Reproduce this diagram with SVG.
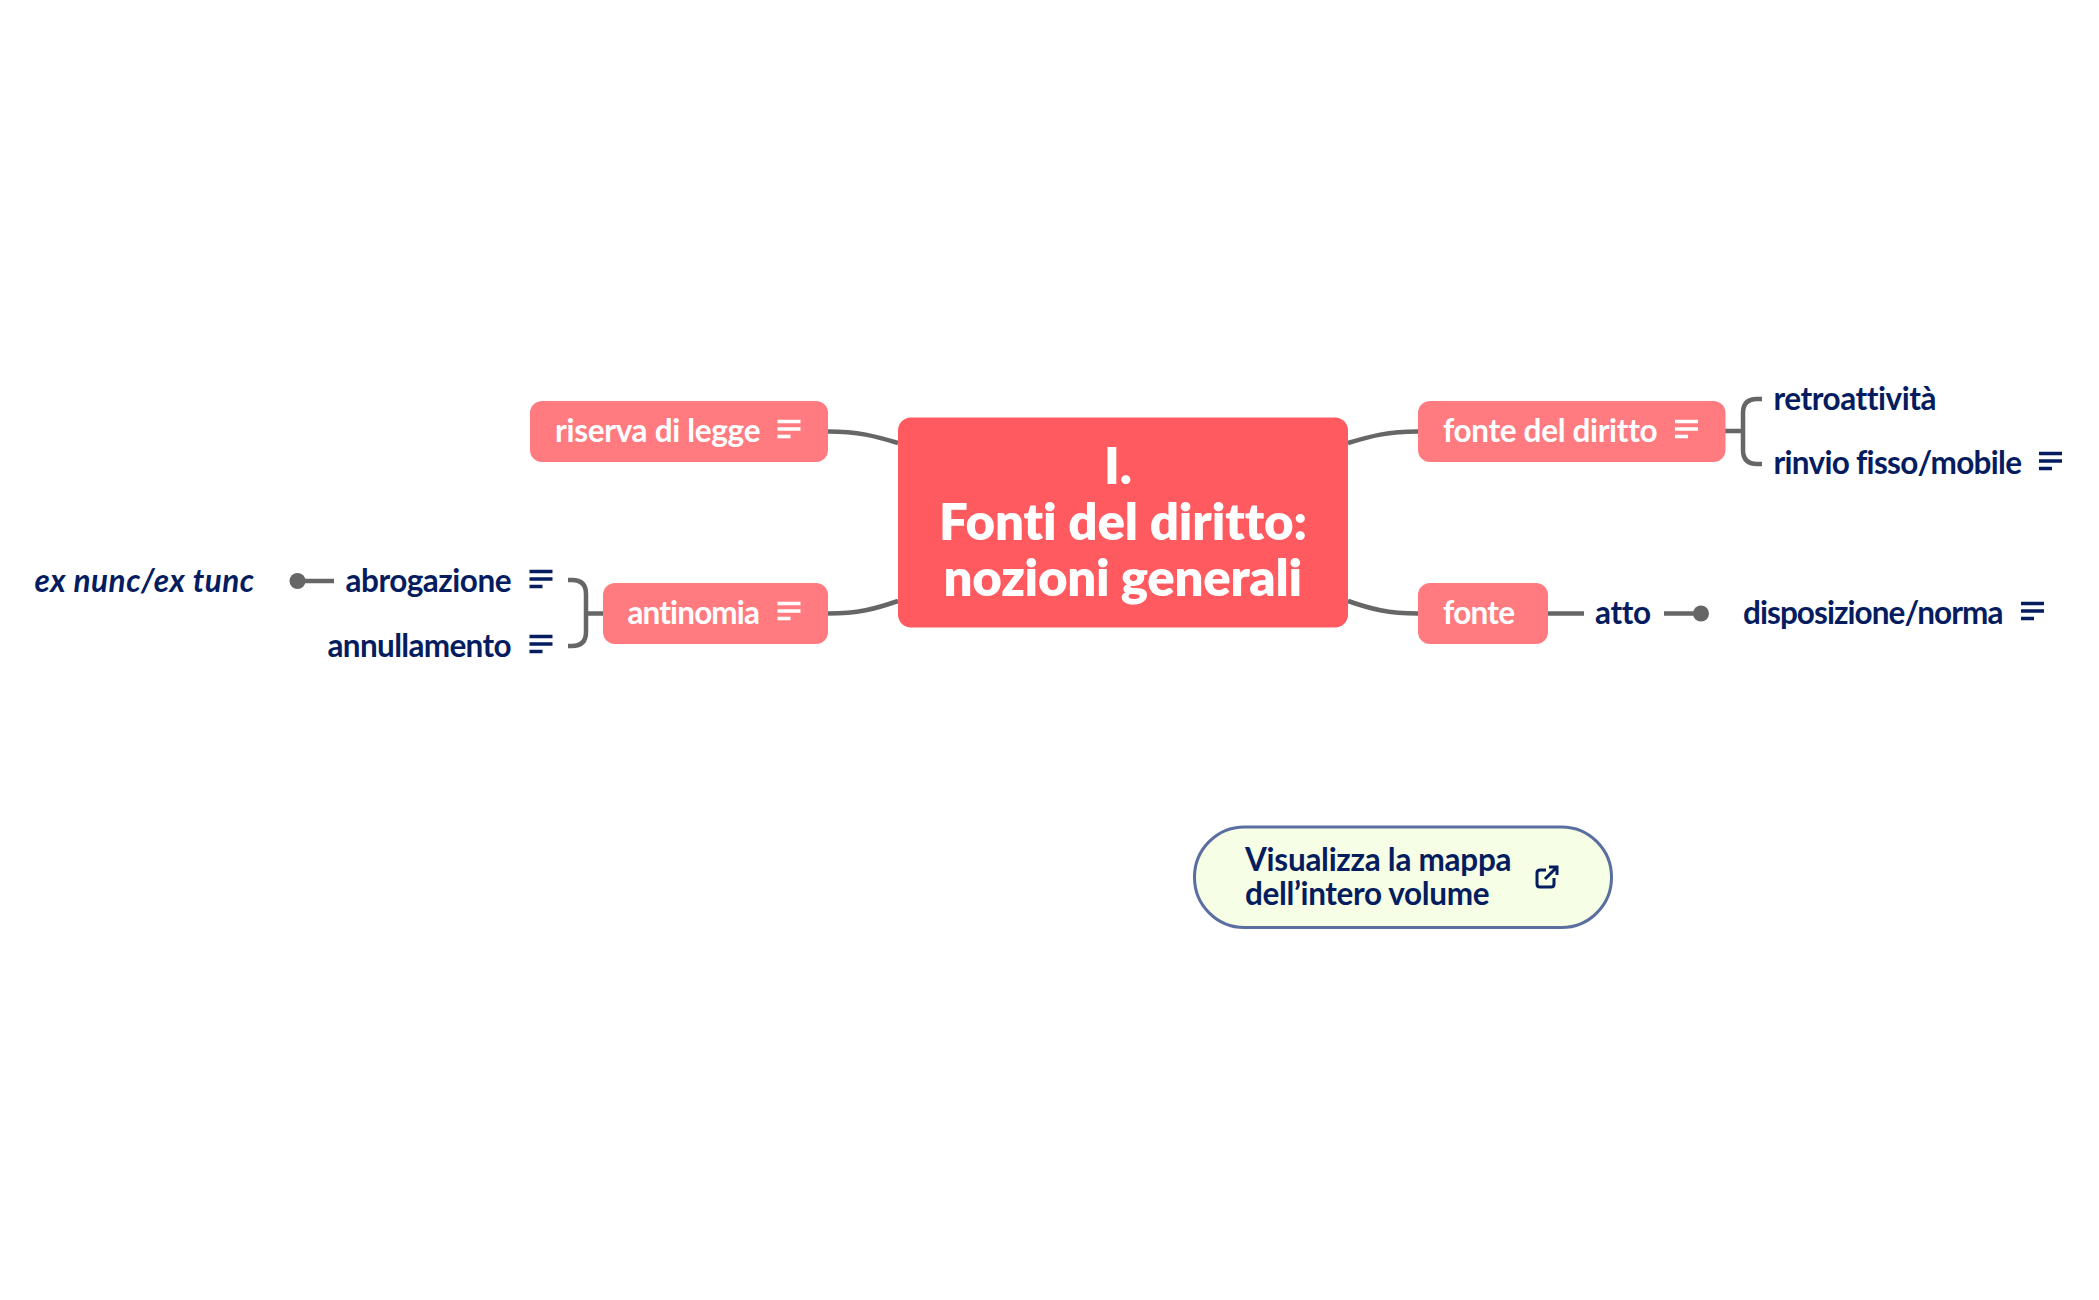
<svg xmlns="http://www.w3.org/2000/svg" width="2099" height="1300" viewBox="0 0 2099 1300">
<style>
text{font-family:"Lato","Liberation Sans",sans-serif;font-weight:700;font-variant-ligatures:none}
.c{fill:#ff5a5f}.b{fill:#ff7b80}
.w{fill:#fff}.n{fill:#051d5f}
.t{font-size:31.500px}.m{font-size:51px;font-weight:800}
.l{fill:none;stroke:#666;stroke-width:4.5;stroke-linecap:butt}
.iw{stroke:#fff;stroke-width:3.4;fill:none}
.in{stroke:#051d5f;stroke-width:3.4;fill:none}
</style>
<defs>
<path id="nt" d="M0 1.5H23M0 9H23M0 16.5H13"/>
</defs>
<rect width="2099" height="1300" fill="#fff"/>
<g id="connectors">
<path class="l" d="M828 431.5C858 431.5 875 436 898 443"/>
<path class="l" d="M828 613.5C858 613.5 875 609 898 601"/>
<path class="l" d="M1348 443C1371 436 1388 431.5 1418 431.5"/>
<path class="l" d="M1348 601C1371 609 1388 613.5 1418 613.5"/>
<path class="l" d="M1725 431H1743M1762 399H1757Q1743 399 1743 413V450Q1743 464 1757 464H1762"/>
<path class="l" d="M603 613.5H586M568 580H572Q586 580 586 594V632Q586 646 572 646H568"/>
<path class="l" d="M1547 613.5H1584M1664 613.5H1701"/>
<path class="l" d="M334 581H297"/>
</g>
<g id="center"><rect class="c" x="898" y="417.5" width="450" height="210" rx="13"/>
<text class="w m" x="1104" y="484">I.</text>
<text class="w m" x="939" y="540" textLength="368">Fonti del diritto:</text>
<text class="w m" x="943.500" y="596" textLength="358.500">nozioni generali</text></g>
<g id="riserva"><rect class="b" x="530" y="401" width="298" height="61" rx="12"/>
<text class="w t" x="555" y="442" textLength="205.500">riserva di legge</text>
<use href="#nt" x="777.500" y="420" class="iw"/></g>
<g id="antinomia"><rect class="b" x="603" y="583" width="225" height="61" rx="12"/>
<text class="w t" x="627.500" y="624" textLength="132.500">antinomia</text>
<use href="#nt" x="777.500" y="602" class="iw"/></g>
<g id="fonte-del-diritto"><rect class="b" x="1418" y="401" width="307.500" height="61" rx="12"/>
<text class="w t" x="1443" y="442" textLength="214.500">fonte del diritto</text>
<use href="#nt" x="1675" y="420" class="iw"/></g>
<g id="fonte"><rect class="b" x="1418" y="583" width="130" height="61" rx="12"/>
<text class="w t" x="1443" y="624" textLength="72">fonte</text></g>
<g id="retroattivita"><text class="n t" x="1773.500" y="410" textLength="163">retroattività</text></g>
<g id="rinvio"><text class="n t" x="1773.500" y="474" textLength="248.500">rinvio fisso/mobile</text>
<use href="#nt" x="2039" y="452" class="in"/></g>
<g id="atto"><text class="n t" x="1595" y="624" textLength="56">atto</text></g>
<g id="dot-atto"><circle cx="1701" cy="613.500" r="8" fill="#666"/></g>
<g id="disposizione"><text class="n t" x="1743" y="624" textLength="260.500">disposizione/norma</text>
<use href="#nt" x="2021" y="602" class="in"/></g>
<g id="abrogazione"><text class="n t" x="345.500" y="592" textLength="166">abrogazione</text>
<use href="#nt" x="529.500" y="570" class="in"/></g>
<g id="annullamento"><text class="n t" x="327.500" y="657" textLength="184">annullamento</text>
<use href="#nt" x="529.500" y="635" class="in"/></g>
<g id="dot-abrogazione"><circle cx="297.500" cy="581" r="8" fill="#666"/></g>
<g id="ex-nunc"><text class="n t" x="34.500" y="592" textLength="219.500" font-style="italic">ex nunc/ex tunc</text></g>
<g id="button"><rect x="1194.500" y="827" width="417" height="100.500" rx="50" fill="#f7fee6" stroke="#5a6e9f" stroke-width="3"/>
<text class="n t" x="1245" y="871" textLength="266.500">Visualizza la mappa</text>
<text class="n t" x="1245" y="905" textLength="244.500">dell’intero volume</text>
<path d="M1546 870H1540Q1537 870 1537 873V884Q1537 887 1540 887H1551Q1554 887 1554 884V878M1545 879L1557 867M1549 867H1557V875" fill="none" stroke="#051d5f" stroke-width="3"/></g>
</svg>
